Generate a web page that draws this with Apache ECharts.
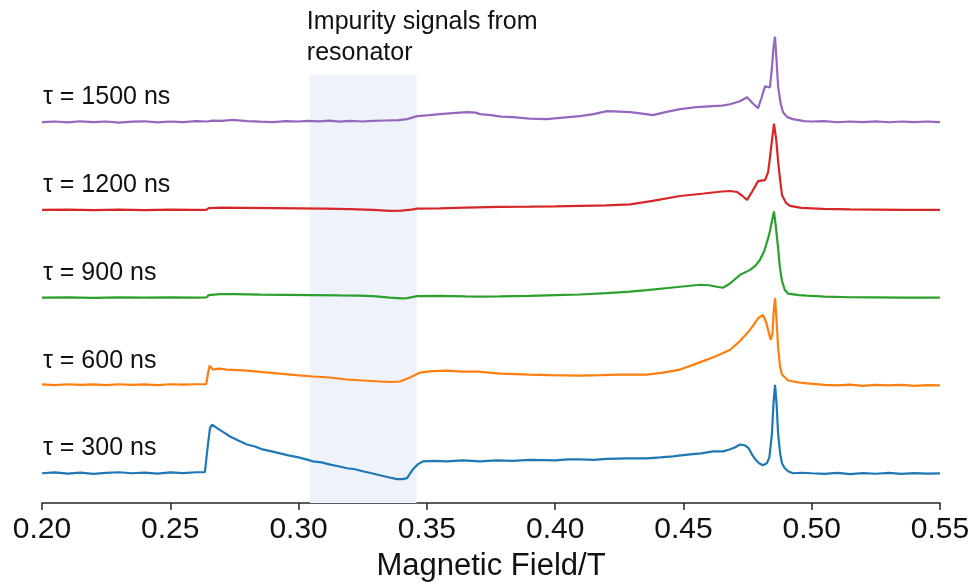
<!DOCTYPE html>
<html>
<head>
<meta charset="utf-8">
<title>Echo-detected field sweeps vs. inter-pulse delay</title>
<script src="https://cdn.jsdelivr.net/npm/echarts@6/dist/echarts.min.js"></script>
<style>
  html, body { margin: 0; padding: 0; background: #ffffff; }
  #chart { width: 975px; height: 587px; }
</style>
</head>
<body>
<div id="chart"></div>
<script>
// Field sweeps recorded at five inter-pulse delays.
// Each trace: [magnetic field (T), echo intensity (a.u., baseline = 0)].
const tau300 = [
  [0.200,0.000],[0.205,0.008],[0.210,-0.004],[0.215,0.006],[0.220,-0.006],[0.225,0.004],[0.230,0.010],
  [0.235,0.000],[0.240,0.006],[0.245,-0.004],[0.250,0.008],[0.255,0.002],[0.260,0.010],[0.2635,0.012],
  [0.2645,0.25],[0.2655,0.46],[0.2663,0.49],[0.2685,0.45],[0.2710,0.41],[0.2733,0.37],[0.2765,0.33],
  [0.2799,0.29],[0.2830,0.27],[0.2860,0.24],[0.2895,0.22],[0.2928,0.20],[0.2960,0.18],[0.3000,0.16],
  [0.3030,0.14],[0.3056,0.12],[0.3090,0.11],[0.3120,0.09],[0.3155,0.07],[0.3189,0.05],[0.3220,0.04],
  [0.3250,0.02],[0.3285,0.00],[0.3317,-0.02],[0.3350,-0.04],[0.3384,-0.06],[0.3405,-0.06],[0.3423,-0.05],
  [0.3435,0.00],[0.3446,0.04],[0.3465,0.09],[0.3485,0.12],[0.3530,0.125],[0.3578,0.12],[0.3640,0.13],
  [0.3707,0.12],[0.3770,0.13],[0.3836,0.125],[0.3900,0.135],[0.4000,0.13],[0.4050,0.14],[0.4097,0.14],
  [0.4150,0.135],[0.4200,0.145],[0.4280,0.15],[0.4358,0.15],[0.4410,0.16],[0.4459,0.17],[0.4490,0.18],
  [0.4526,0.19],[0.4570,0.20],[0.4615,0.22],[0.4654,0.22],[0.4680,0.24],[0.4700,0.26],[0.4721,0.29],
  [0.4740,0.28],[0.4755,0.25],[0.4767,0.19],[0.4780,0.14],[0.4795,0.10],[0.4810,0.08],[0.4825,0.10],
  [0.4835,0.16],[0.4845,0.40],[0.4851,0.70],[0.4857,0.89],[0.4863,0.70],[0.4869,0.40],[0.4877,0.20],
  [0.4884,0.10],[0.4895,0.05],[0.4908,0.02],[0.4927,0.00],[0.4960,0.005],[0.5000,0.000],[0.5050,-0.006],
  [0.5100,0.004],[0.5150,-0.008],[0.5200,0.002],[0.5250,-0.005],[0.5300,0.003],[0.5350,-0.006],
  [0.5400,0.002],[0.5450,-0.004],[0.5500,-0.002]
];

const tau600 = [
  [0.200,0.010],[0.205,0.004],[0.210,0.012],[0.215,0.006],[0.220,0.010],[0.225,0.004],[0.230,0.012],
  [0.235,0.006],[0.240,0.010],[0.245,0.004],[0.250,0.012],[0.255,0.008],[0.260,0.012],[0.2640,0.014],
  [0.2647,0.12],[0.2653,0.20],[0.2666,0.16],[0.2690,0.17],[0.2721,0.16],[0.2760,0.155],[0.2799,0.15],
  [0.2860,0.135],[0.2928,0.12],[0.2990,0.105],[0.3056,0.09],[0.3120,0.08],[0.3189,0.06],[0.3250,0.05],
  [0.3317,0.04],[0.3360,0.035],[0.3395,0.04],[0.3434,0.08],[0.3473,0.13],[0.3520,0.145],[0.3578,0.15],
  [0.3640,0.14],[0.3700,0.14],[0.3785,0.12],[0.3850,0.115],[0.3900,0.11],[0.3980,0.105],[0.4097,0.10],
  [0.4180,0.105],[0.4250,0.11],[0.4358,0.11],[0.4420,0.13],[0.4487,0.16],[0.4540,0.21],[0.4592,0.26],
  [0.4640,0.31],[0.4682,0.36],[0.4721,0.45],[0.4750,0.53],[0.4771,0.60],[0.4792,0.68],[0.4810,0.71],
  [0.4822,0.64],[0.4830,0.56],[0.4840,0.46],[0.4847,0.52],[0.4852,0.75],[0.4857,0.88],[0.4862,0.70],
  [0.4869,0.38],[0.4876,0.20],[0.4884,0.11],[0.4908,0.05],[0.4950,0.03],[0.4982,0.02],[0.5050,0.005],
  [0.5100,0.000],[0.5150,0.008],[0.5200,-0.004],[0.5250,0.006],[0.5300,0.000],[0.5350,0.006],
  [0.5400,-0.004],[0.5450,0.004],[0.5500,0.000]
];

const tau900 = [
  [0.200,0.000],[0.210,0.002],[0.220,-0.002],[0.230,0.002],[0.240,0.000],[0.250,0.002],[0.260,0.000],
  [0.2640,0.002],[0.2650,0.025],[0.2694,0.035],[0.2750,0.035],[0.2850,0.030],[0.2950,0.028],[0.3050,0.026],
  [0.3161,0.022],[0.3230,0.020],[0.3290,0.015],[0.3356,0.000],[0.3400,-0.008],[0.3423,-0.005],
  [0.3462,0.015],[0.3550,0.018],[0.3650,0.012],[0.3707,0.010],[0.3785,0.012],[0.3900,0.018],
  [0.4000,0.025],[0.4097,0.032],[0.4200,0.045],[0.4292,0.060],[0.4358,0.075],[0.4450,0.100],
  [0.4526,0.120],[0.4565,0.130],[0.4600,0.125],[0.4630,0.110],[0.4654,0.100],[0.4680,0.140],
  [0.4721,0.230],[0.4760,0.280],[0.4780,0.320],[0.4798,0.380],[0.4815,0.470],[0.4830,0.600],
  [0.4837,0.670],[0.4845,0.770],[0.4853,0.870],[0.4860,0.720],[0.4869,0.500],[0.4876,0.300],
  [0.4884,0.170],[0.4895,0.080],[0.4908,0.040],[0.4950,0.025],[0.4982,0.020],[0.5050,0.010],
  [0.5150,0.004],[0.5250,0.002],[0.5350,0.000],[0.5500,0.000]
];

const tau1200 = [
  [0.200,0.000],[0.210,0.003],[0.220,-0.002],[0.230,0.002],[0.240,-0.002],[0.250,0.003],[0.260,0.000],
  [0.2640,0.000],[0.2650,0.018],[0.2700,0.022],[0.2800,0.020],[0.2900,0.018],[0.3000,0.015],[0.3100,0.012],
  [0.3200,0.008],[0.3290,0.000],[0.3356,-0.010],[0.3400,-0.008],[0.3440,0.002],[0.3462,0.012],
  [0.3550,0.015],[0.3650,0.022],[0.3785,0.030],[0.3900,0.032],[0.4000,0.035],[0.4097,0.040],
  [0.4200,0.045],[0.4292,0.055],[0.4380,0.090],[0.4487,0.140],[0.4580,0.165],[0.4650,0.185],
  [0.4682,0.190],[0.4710,0.180],[0.4730,0.140],[0.4748,0.100],[0.4767,0.180],[0.4791,0.290],
  [0.4818,0.300],[0.4830,0.380],[0.4837,0.520],[0.4845,0.700],[0.4853,0.870],[0.4862,0.700],
  [0.4869,0.490],[0.4877,0.300],[0.4884,0.150],[0.4900,0.070],[0.4915,0.040],[0.4960,0.020],
  [0.5044,0.010],[0.5150,0.004],[0.5250,0.002],[0.5350,0.000],[0.5500,0.000]
];

const tau1500 = [
  [0.200,0.000],[0.205,0.006],[0.210,-0.004],[0.215,0.008],[0.220,0.000],[0.225,0.006],[0.230,-0.006],
  [0.235,0.004],[0.240,0.008],[0.245,-0.004],[0.250,0.006],[0.255,0.000],[0.260,0.010],[0.2643,0.006],
  [0.2666,0.015],[0.2700,0.012],[0.2744,0.022],[0.2800,0.010],[0.2850,0.004],[0.2900,0.000],
  [0.2950,0.010],[0.3000,0.006],[0.3033,0.012],[0.3080,0.008],[0.3120,0.014],[0.3160,0.004],
  [0.3200,0.012],[0.3250,0.006],[0.3290,0.012],[0.3340,0.016],[0.3390,0.020],[0.3423,0.030],
  [0.3462,0.060],[0.3510,0.070],[0.3551,0.080],[0.3600,0.090],[0.3656,0.100],[0.3690,0.095],
  [0.3707,0.080],[0.3750,0.070],[0.3790,0.055],[0.3836,0.050],[0.3900,0.035],[0.3968,0.030],
  [0.4030,0.045],[0.4097,0.060],[0.4150,0.080],[0.4202,0.110],[0.4250,0.105],[0.4292,0.100],
  [0.4340,0.085],[0.4381,0.070],[0.4430,0.100],[0.4487,0.130],[0.4550,0.150],[0.4615,0.160],
  [0.4650,0.165],[0.4682,0.180],[0.4720,0.210],[0.4748,0.250],[0.4770,0.190],[0.4791,0.140],
  [0.4805,0.250],[0.4818,0.360],[0.4837,0.350],[0.4845,0.550],[0.4851,0.750],[0.4857,0.860],
  [0.4863,0.620],[0.4869,0.360],[0.4878,0.200],[0.4888,0.100],[0.4905,0.050],[0.4927,0.030],
  [0.4970,0.010],[0.5000,0.006],[0.5050,0.010],[0.5100,-0.002],[0.5150,0.006],[0.5200,0.000],
  [0.5250,0.008],[0.5300,-0.002],[0.5350,0.006],[0.5400,0.000],[0.5450,0.006],[0.5500,0.000]
];

// Trace order (bottom to top), labels and stacking offsets (a.u.)
const traces = [tau300, tau600, tau900, tau1200, tau1500];
const traceLabels = ['τ = 300 ns', 'τ = 600 ns', 'τ = 900 ns', 'τ = 1200 ns', 'τ = 1500 ns'];
const traceOffsets = [0.30, 1.185, 2.07, 2.955, 3.84];
const traceColors = ['#1f77b4', '#ff7f0e', '#2ca02c', '#d62728', '#9467bd'];

// Field window affected by resonator background signals
const impurityBand = [0.3044, 0.346];
const impurityText = 'Impurity signals from\nresonator';

const xTicks = { min: 0.20, max: 0.55, step: 0.05 };
const xTitle = 'Magnetic Field/T';

const FONT = '"Liberation Sans", Arial, Helvetica, sans-serif';
const TEXT_COLOR = '#111111';

const chart = echarts.init(document.getElementById('chart'), null, { renderer: 'canvas' });

const series = traces.map((trace, i) => ({
  name: traceLabels[i],
  type: 'line',
  showSymbol: false,
  smooth: false,
  z: 3 + i,
  data: trace.map(([field, value]) => [field, value + traceOffsets[i]]),
  lineStyle: { color: traceColors[i], width: 2.2 },
  itemStyle: { color: traceColors[i] },
  markPoint: {
    silent: true,
    symbol: 'circle',
    symbolSize: 0,
    data: [{ coord: [xTicks.min, traceOffsets[i] + 0.25] }],
    label: {
      show: true,
      position: 'right',
      distance: 1,
      formatter: traceLabels[i],
      fontSize: 25,
      fontFamily: FONT,
      color: TEXT_COLOR
    }
  }
}));

// Shaded band drawn underneath the traces
series.unshift({
  name: 'band',
  type: 'line',
  data: [],
  z: 1,
  silent: true,
  markArea: {
    silent: true,
    itemStyle: { color: '#eef2fb' },
    data: [[{ coord: [impurityBand[0], 0] }, { coord: [impurityBand[1], 4.32] }]]
  }
});

chart.setOption({
  animation: false,
  backgroundColor: '#ffffff',
  grid: { left: 42, right: 35, top: 7, bottom: 80, containLabel: false },
  xAxis: {
    type: 'value',
    min: xTicks.min,
    max: xTicks.max,
    interval: xTicks.step,
    name: xTitle,
    nameLocation: 'middle',
    nameGap: 48,
    nameTextStyle: { fontSize: 31, fontFamily: FONT, color: TEXT_COLOR },
    axisLine: { show: true, onZero: false, lineStyle: { color: '#262626', width: 1.5 } },
    axisTick: { show: true, inside: false, length: 7, lineStyle: { color: '#262626', width: 1.5 } },
    axisLabel: {
      fontSize: 30,
      fontFamily: FONT,
      color: TEXT_COLOR,
      margin: 12,
      showMinLabel: true,
      showMaxLabel: true,
      formatter: v => v.toFixed(2)
    },
    splitLine: { show: false }
  },
  yAxis: {
    type: 'value',
    min: 0,
    max: 5,
    show: false,
    splitLine: { show: false }
  },
  series: series
});

// Caption above the shaded band, left-aligned with it
const bandLeft = chart.convertToPixel({ xAxisIndex: 0 }, impurityBand[0]);
chart.setOption({
  graphic: [{
    type: 'text',
    left: bandLeft - 3,
    top: 7,
    silent: true,
    style: {
      text: impurityText,
      font: '25px ' + FONT,
      fill: TEXT_COLOR,
      lineHeight: 31
    }
  }]
});
</script>
</body>
</html>
